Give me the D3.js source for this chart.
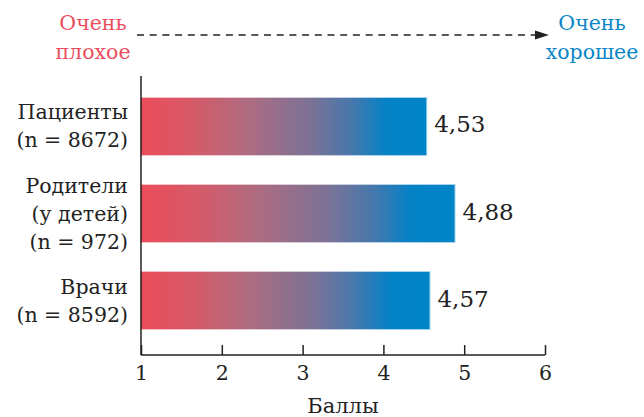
<!DOCTYPE html>
<html><head><meta charset="utf-8">
<script src="https://cdn.jsdelivr.net/npm/d3@7"></script>
<style>
html,body{margin:0;padding:0;background:#fff;}
svg{display:block;}
text{font-family:"DejaVu Serif","Liberation Serif","Times New Roman",serif;}
</style></head>
<body>
<svg id="chart" width="644" height="417"></svg>
<script>
const categories = ["Пациенты", "Родители", "Врачи"];
const categoryLines = [["Пациенты", "(n = 8672)"], ["Родители", "(у детей)", "(n = 972)"], ["Врачи", "(n = 8592)"]];
const values = [4.53, 4.88, 4.57];
const valueLabels = ["4,53", "4,88", "4,57"];
const xTicks = [1, 2, 3, 4, 5, 6];
const xTitle = "Баллы";
const leftLabel = ["Очень", "плохое"];
const rightLabel = ["Очень", "хорошее"];

const svg = d3.select("#chart");
const x = d3.scaleLinear().domain([1, 6]).range([141, 545]);
const y = d3.scaleBand().domain(categories).range([98, 329]).paddingInner(0.345).paddingOuter(0);

const defs = svg.append("defs");
const grad = defs.append("linearGradient").attr("id", "barGrad").attr("x1", "0").attr("x2", "1").attr("y1", "0").attr("y2", "0");
[[0, "rgb(236,76,90)"], [0.18, "rgb(214,90,104)"], [0.38, "rgb(172,108,130)"], [0.6, "rgb(122,114,150)"], [0.74, "rgb(70,120,172)"], [0.86, "rgb(4,130,198)"], [1, "rgb(0,132,200)"]]
  .forEach(([o, c]) => grad.append("stop").attr("offset", o).attr("stop-color", c));

const axisColor = "#222";
const FONT = "'DejaVu Serif','Liberation Serif','Times New Roman',serif";

// bars
svg.append("g").selectAll("rect").data(categories).join("rect")
  .attr("x", x(1))
  .attr("y", d => y(d))
  .attr("width", (d, i) => x(values[i]) - x(1))
  .attr("height", y.bandwidth())
  .attr("fill", "url(#barGrad)")
  .attr("stroke", "url(#barGrad)")
  .attr("stroke-opacity", 0.35)
  .attr("stroke-width", 2);

// value labels
svg.append("g").selectAll("text").data(categories).join("text")
  .attr("x", (d, i) => x(values[i]) + 8)
  .attr("y", d => y(d) + y.bandwidth() / 2 + 6)
  .attr("font-family", FONT)
  .attr("font-size", 23)
  .attr("fill", "#222")
  .text((d, i) => valueLabels[i]);

// category labels
const lh = 28;
categories.forEach((c, i) => {
  const lines = categoryLines[i];
  const cy = y(c) + y.bandwidth() / 2;
  const b1 = cy - (lines.length - 1) * lh / 2 + 7;
  const t = svg.append("text").attr("text-anchor", "end").attr("font-family", FONT).attr("font-size", 20.5).attr("fill", "#222");
  lines.forEach((l, j) => t.append("tspan").attr("x", 128).attr("y", b1 + j * lh).text(l));
});

// x axis
const xAxis = d3.axisBottom(x).tickValues(xTicks).tickSize(0).tickPadding(0).tickFormat(d3.format("d"));
const gx = svg.append("g").attr("transform", "translate(0,355)").call(xAxis);
gx.select(".domain").remove();
gx.attr("font-family", FONT);
gx.selectAll(".tick text").attr("font-family", FONT).attr("font-size", 20.5).attr("fill", "#222").attr("dy", null).attr("y", 25);
gx.selectAll(".tick").append("line").attr("y1", 0).attr("y2", -10).attr("stroke", axisColor).attr("stroke-width", 1.5);
svg.append("line").attr("x1", x(1)).attr("x2", x(6)).attr("y1", 355).attr("y2", 355).attr("stroke", axisColor).attr("stroke-width", 1.5);
// y axis line
svg.append("line").attr("x1", x(1)).attr("x2", x(1)).attr("y1", 76).attr("y2", 355).attr("stroke", axisColor).attr("stroke-width", 1.5);

// axis title
svg.append("text").attr("x", (x(1) + x(6)) / 2).attr("y", 413).attr("text-anchor", "middle").attr("font-family", FONT).attr("font-size", 21).attr("fill", "#222").text(xTitle);

// top labels
const tl = svg.append("text").attr("text-anchor", "middle").attr("font-family", FONT).attr("font-size", 20.5).attr("fill", "#ea4e5e");
leftLabel.forEach((l, j) => tl.append("tspan").attr("x", 93).attr("y", 30 + j * 29).text(l));
const tr = svg.append("text").attr("text-anchor", "middle").attr("font-family", FONT).attr("font-size", 20.5).attr("fill", "#0a86c8");
rightLabel.forEach((l, j) => tr.append("tspan").attr("x", 592).attr("y", 30 + j * 29).text(l));

// arrow
svg.append("line").attr("x1", 137).attr("x2", 536).attr("y1", 35).attr("y2", 35)
  .attr("stroke", axisColor).attr("stroke-width", 1.5).attr("stroke-dasharray", "7,5.7");
svg.append("path").attr("d", d3.line()([[535, 30.5], [549, 35], [535, 39.5]]) + "Z").attr("fill", axisColor);
</script>
</body></html>
